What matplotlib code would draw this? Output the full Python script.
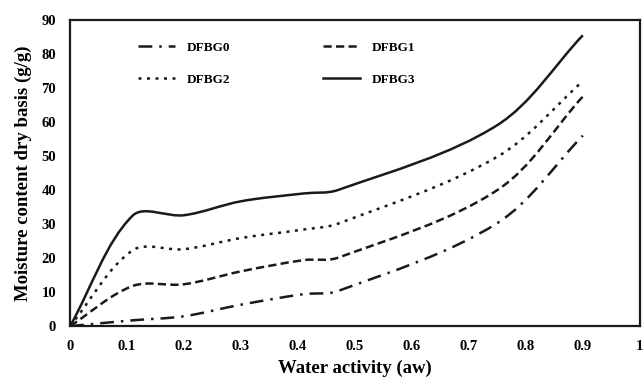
import numpy as np
import matplotlib
matplotlib.use("Agg")
import matplotlib.pyplot as plt
from matplotlib.path import Path
from matplotlib.patches import PathPatch
from matplotlib.lines import Line2D

plt.rcParams['font.family'] = ['Liberation Serif', 'DejaVu Serif']
plt.rcParams['font.weight'] = 'bold'

# water activity points and moisture content (g/g dry basis)
aw = [0, 0.11, 0.2, 0.3, 0.41, 0.47, 0.75, 0.9]
dfbg0 = [0, 1.7, 2.9, 6.3, 9.4, 10.3, 30.3, 56]
dfbg1 = [0, 11.8, 12.3, 16.1, 19.4, 20.1, 40, 67.5]
dfbg2 = [0, 22.3, 22.6, 25.9, 28.4, 30.1, 49.8, 72]
dfbg3 = [0, 32.5, 32.6, 36.7, 39.0, 40.0, 59.1, 85.5]

labels = ['DFBG0', 'DFBG1', 'DFBG2', 'DFBG3']
styles = [(0, (5.5, 2.8, 1, 2.8)), (0, (3.3, 1.7)), (0, (1.2, 2.2)), '-']
ink = '#1a1a1a'


# smoothed line through the points: cubic bezier, tangents scaled by the
# on-screen chord lengths (px per unit roughly 570 in x, 3.4 in y)
def smooth_path(x, y, sx=570.0, sy=3.4):
    pts = np.column_stack([x, y]).astype(float)
    n = len(pts)
    d = np.hypot(np.diff(pts[:, 0]) * sx, np.diff(pts[:, 1]) * sy)
    tang = []
    for i in range(n):
        if i == 0:
            tang.append((pts[1] - pts[0]) / d[0])
        elif i == n - 1:
            tang.append((pts[-1] - pts[-2]) / d[-1])
        else:
            tang.append((pts[i + 1] - pts[i - 1]) / (d[i - 1] + d[i]))
    verts = [pts[0]]
    codes = [Path.MOVETO]
    for i in range(n - 1):
        verts += [pts[i] + tang[i] * d[i] / 3,
                  pts[i + 1] - tang[i + 1] * d[i] / 3,
                  pts[i + 1]]
        codes += [Path.CURVE4] * 3
    return Path(verts, codes)


fig = plt.figure(figsize=(6.43, 3.77), dpi=100)
ax = fig.add_axes([0.109, 0.135, 0.886, 0.812])

handles = []
for ys, lab, ls in zip([dfbg0, dfbg1, dfbg2, dfbg3], labels, styles):
    patch = PathPatch(smooth_path(aw, ys), fill=False, edgecolor=ink,
                      linewidth=1.8, linestyle=ls, capstyle='butt')
    ax.add_patch(patch)
    handles.append(Line2D([], [], color=ink, linewidth=1.8, linestyle=ls))

ax.set_xlim(0, 1)
ax.set_ylim(0, 90)
ax.set_xticks(np.arange(0, 1.01, 0.1))
ax.set_xticklabels(['0', '0.1', '0.2', '0.3', '0.4', '0.5', '0.6', '0.7', '0.8', '0.9', '1'])
ax.set_yticks(np.arange(0, 91, 10))
ax.tick_params(axis='both', length=0, labelsize=10.5)
ax.tick_params(axis='x', pad=10)
ax.tick_params(axis='y', pad=10)
for s in ax.spines.values():
    s.set_linewidth(1.6)
    s.set_color(ink)

ax.set_xlabel('Water activity (aw)', fontsize=13.5, fontweight='bold', labelpad=5)
ax.set_ylabel('Moisture content dry basis (g/g)', fontsize=13.5, fontweight='bold', labelpad=7)

# legend filled row by row: DFBG0, DFBG1 / DFBG2, DFBG3
order = [0, 2, 1, 3]
ax.legend([handles[i] for i in order], [labels[i] for i in order], ncol=2,
          frameon=False, fontsize=9.5, loc='upper left',
          bbox_to_anchor=(0.11, 0.947), borderaxespad=0,
          handlelength=2.8, handletextpad=0.9, columnspacing=7.0,
          labelspacing=1.5)

fig.savefig('out.png', dpi=100)
